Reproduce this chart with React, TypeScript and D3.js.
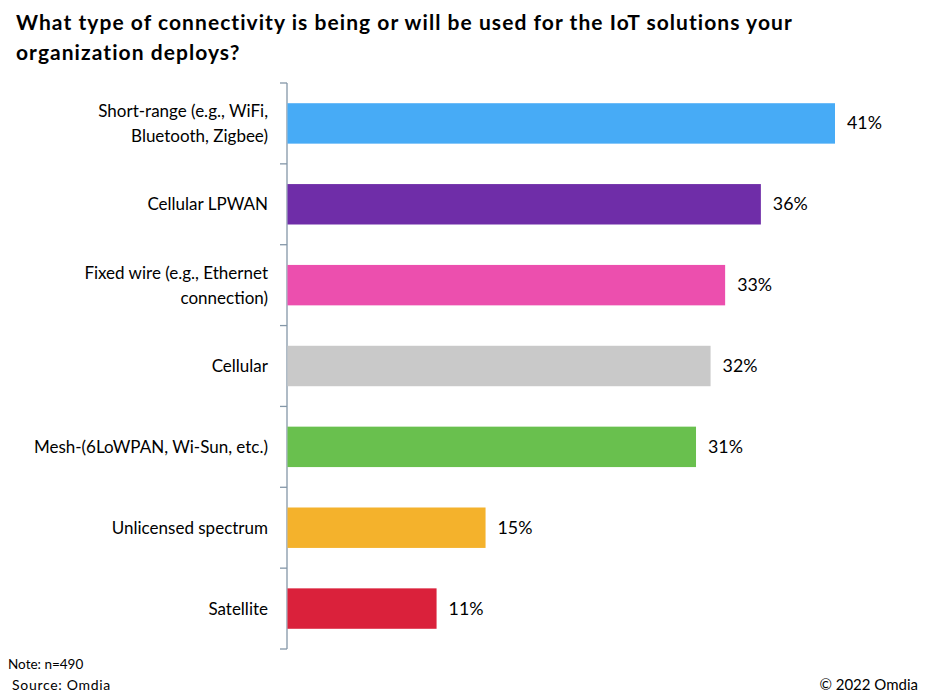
import React from "react";
import * as d3 from "d3";

const categories: string[][] = [
  ["Short-range (e.g., WiFi,", "Bluetooth, Zigbee)"],
  ["Cellular LPWAN"],
  ["Fixed wire (e.g., Ethernet", "connection)"],
  ["Cellular"],
  ["Mesh-(6LoWPAN, Wi-Sun, etc.)"],
  ["Unlicensed spectrum"],
  ["Satellite"],
];
const values: number[] = [41.4, 35.8, 33.1, 32.0, 30.9, 15.0, 11.3];
const labels: string[] = ["41%", "36%", "33%", "32%", "31%", "15%", "11%"];
const colors: string[] = ["#47ABF6", "#6F2DA8", "#EC4FAE", "#C9C9C9", "#69C04E", "#F4B22C", "#DA213B"];

const titleLines = [
  "What type of connectivity is being or will be used for the IoT solutions your",
  "organization deploys?",
];

export default function App() {
  const W = 927, H = 700;
  const x0 = 287;
  const top = 83, bottom = 649;
  const x = d3.scaleLinear().domain([0, 41.4]).range([x0, 835]);
  const y = d3.scaleBand<number>().domain(d3.range(values.length)).range([top, bottom]).paddingInner(0.5).paddingOuter(0.25);
  const font = "Lato, 'Open Sans', sans-serif";
  const ticks = d3.range(values.length + 1).map((i) => top + i * ((bottom - top) / values.length));
  return (
    <svg width={W} height={H} style={{ position: "absolute", left: 0, top: 0, background: "#fff" }} fontFamily={font}>
      {titleLines.map((t, i) => (
        <text key={i} x={16} y={30 + i * 30} fontSize={21} fontWeight="bold" letterSpacing={1.05} fill="#000">{t}</text>
      ))}
      <line x1={x0} x2={x0} y1={top} y2={bottom} stroke="#8497A8" strokeWidth={1.3} />
      {ticks.map((t, i) => (
        <line key={i} x1={x0 - 7} x2={x0} y1={t} y2={t} stroke="#8497A8" strokeWidth={1.3} />
      ))}
      {values.map((v, i) => {
        const yb = y(i)!;
        const cy = yb + y.bandwidth() / 2;
        const lines = categories[i];
        return (
          <g key={i}>
            <rect x={x0 + 0.5} y={yb} width={x(v) - x0 - 0.5} height={y.bandwidth()} fill={colors[i]} />
            <text x={x(v) + 12} y={cy + 6} fontSize={17.8} fill="#000">{labels[i]}</text>
            {lines.map((l, j) => (
              <text key={j} x={268} y={cy + 6 + (j - (lines.length - 1) / 2) * 25} textAnchor="end" fontSize={17} fill="#000">{l}</text>
            ))}
          </g>
        );
      })}
      <text x={8} y={669} fontSize={13.5} fill="#000">Note: n=490</text>
      <text x={12} y={690} fontSize={14} letterSpacing={0.7} fill="#000">Source: Omdia</text>
      <text x={918} y={690} fontSize={15} textAnchor="end" fill="#000">© 2022 Omdia</text>
    </svg>
  );
}
